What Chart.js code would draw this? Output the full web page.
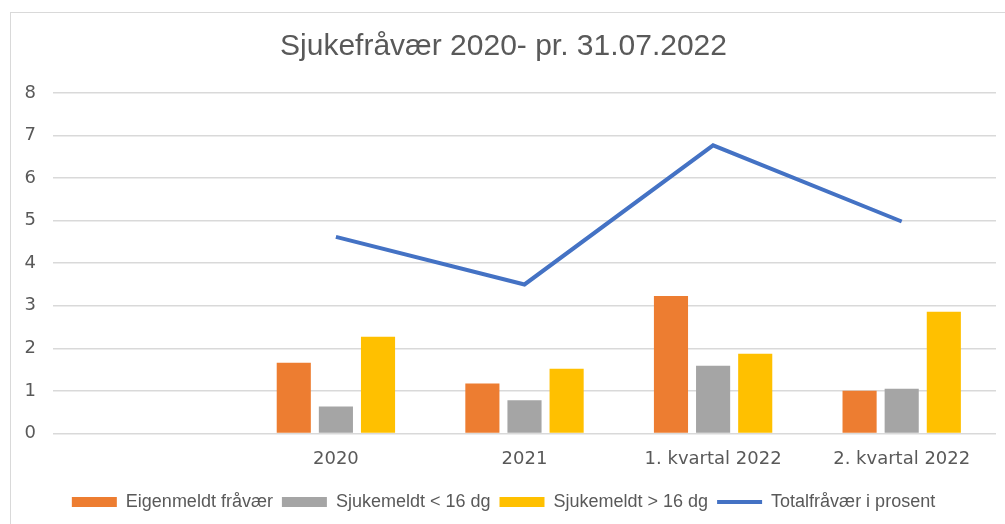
<!DOCTYPE html>
<html>
<head>
<meta charset="utf-8">
<script src="https://cdn.jsdelivr.net/npm/chart.js@4"></script>
<style>
    body { margin: 0; background: #fff; }
    #frame {
        position: absolute; left: 10px; top: 12px;
        width: 995px; height: 512px;
        border-left: 1px solid #d9d9d9; border-top: 1px solid #d9d9d9;
    }
</style>
</head>
<body>
<div id="frame"><canvas id="barChart"></canvas></div>
<script>
const categories = ['', '2020', '2021', '1. kvartal 2022', '2. kvartal 2022'];
const eigenmeldt = [null, 1.66, 1.17, 3.23, 1.00];
const sykUnder16 = [null, 0.63, 0.78, 1.59, 1.05];
const sykOver16 = [null, 2.27, 1.52, 1.87, 2.86];
const totalProsent = [null, 4.62, 3.50, 6.77, 4.98];
const yTicks = [0, 1, 2, 3, 4, 5, 6, 7, 8];

document.addEventListener('DOMContentLoaded', function () {

    const textColor = '#595959';
    const sans = '"Liberation Sans", Arial, sans-serif';

    const ctx = document.getElementById('barChart').getContext('2d');
    new Chart(ctx, {
        data: {
            labels: categories,
            datasets: [
                {
                    type: 'line',
                    label: 'Totalfråvær i prosent',
                    data: totalProsent,
                    borderColor: '#4472C4',
                    backgroundColor: '#4472C4',
                    borderWidth: 4,
                    pointRadius: 0,
                    pointStyle: 'line',
                    tension: 0,
                    order: 0
                },
                {
                    type: 'bar',
                    label: 'Eigenmeldt fråvær',
                    data: eigenmeldt,
                    backgroundColor: '#ED7D31',
                    pointStyle: 'rect',
                    order: 1
                },
                {
                    type: 'bar',
                    label: 'Sjukemeldt < 16 dg',
                    data: sykUnder16,
                    backgroundColor: '#A5A5A5',
                    pointStyle: 'rect',
                    order: 1
                },
                {
                    type: 'bar',
                    label: 'Sjukemeldt > 16 dg',
                    data: sykOver16,
                    backgroundColor: '#FFC000',
                    pointStyle: 'rect',
                    order: 1
                }
            ]
        },
        options: {
            responsive: true,
            maintainAspectRatio: false,
            animation: false,
            datasets: { bar: { categoryPercentage: 0.67, barPercentage: 0.81 } },
            layout: { padding: { left: 0, right: 10, top: 10, bottom: 4 } },
            plugins: {
                title: {
                    display: true,
                    text: 'Sjukefråvær 2020- pr. 31.07.2022',
                    color: textColor,
                    font: { family: sans, size: 30, weight: 'normal' },
                    padding: { top: 6, bottom: 28 }
                },
                legend: {
                    position: 'bottom',
                    labels: {
                        color: textColor,
                        font: { family: sans, size: 18 },
                        usePointStyle: true,
                        pointStyleWidth: 45,
                        boxHeight: 10,
                        padding: 9,
                        sort: function (a, b) {
                            return (a.datasetIndex === 0 ? 9 : a.datasetIndex) - (b.datasetIndex === 0 ? 9 : b.datasetIndex);
                        }
                    }
                },
                tooltip: { enabled: false }
            },
            scales: {
                x: {
                    grid: { display: false },
                    border: { display: false },
                    afterFit: function (axis) { axis.height += 7; },
                    ticks: { color: textColor, font: { family: 'DejaVu Sans', size: 18 }, padding: 7 }
                },
                y: {
                    min: 0,
                    max: 8,
                    afterBuildTicks: function (axis) {
                        axis.ticks = yTicks.map(v => ({ value: v }));
                    },
                    afterFit: function (axis) { axis.width = 42; },
                    grid: { color: '#d9d9d9', lineWidth: 1.5, drawTicks: false },
                    border: { display: false },
                    ticks: { color: textColor, font: { family: 'DejaVu Sans', size: 18 }, padding: 17 }
                }
            }
        }
    });

});
</script>
</body>
</html>
